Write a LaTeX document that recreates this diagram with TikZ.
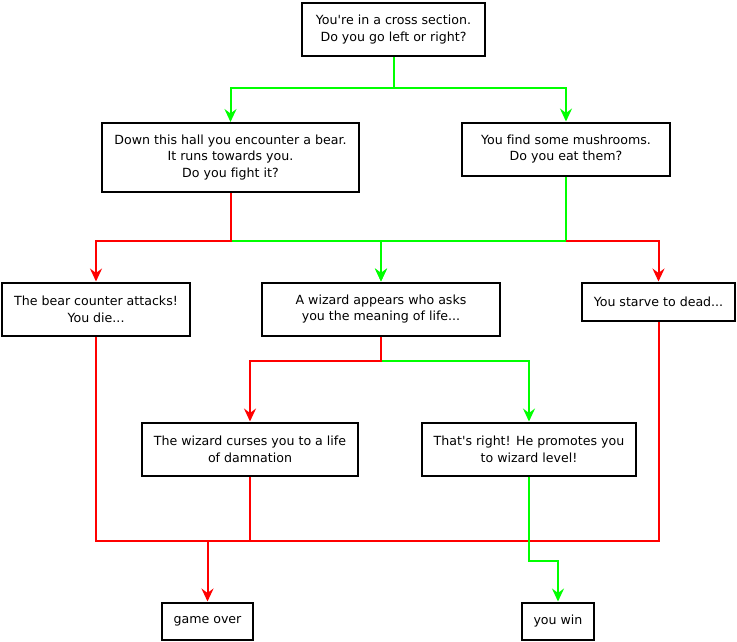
\documentclass[tikz,border=0pt]{standalone}
\usepackage{fontspec}
\setmainfont{DejaVu Sans}[Ligatures={TeXOff,NoCommon}]
\usetikzlibrary{arrows.meta}
\definecolor{lgreen}{HTML}{00FF00}
\definecolor{lred}{HTML}{FF0000}
\begin{document}
\begin{tikzpicture}[x=1pt,y=-1pt,
  box/.style={draw=black,line width=2pt,rectangle,inner sep=0pt,align=center,
    font=\fontsize{12.6}{16.8}\selectfont},
  conn/.style={line width=2pt,-{Stealth[length=13pt,width=12pt,inset=4.5pt]}},
  gline/.style={conn,draw=lgreen},
  rline/.style={conn,draw=lred},
  rplain/.style={line width=2pt,draw=lred}]
\useasboundingbox (0,0) rectangle (737,641);
\node[box,minimum width=183pt,minimum height=53pt] (top) at (393.5,29.5)
  {You're in a cross section.\\Do you go left or right?};
\node[box,minimum width=257pt,minimum height=69pt] (bear) at (230.5,157.5)
  {Down this hall you encounter a bear.\\It runs towards you.\\Do you fight it?};
\node[box,minimum width=208pt,minimum height=53pt] (mush) at (566,149)
  {You find some mushrooms.\\Do you eat them?};
\node[box,minimum width=188pt,minimum height=53pt] (counter) at (96,309)
  {The bear counter attacks!\\You die...};
\node[box,minimum width=238pt,minimum height=53pt] (wizard) at (381,309)
  {A wizard appears who asks\\you the meaning of life...};
\node[box,minimum width=153pt,minimum height=38pt] (starve) at (658.5,301.5)
  {You starve to dead...};
\node[box,minimum width=216pt,minimum height=53pt] (curses) at (250,449)
  {The wizard curses you to a life\\of damnation};
\node[box,minimum width=214pt,minimum height=53pt] (right) at (529,449)
  {That's right! He promotes you\\to wizard level!};
\node[box,minimum width=91pt,minimum height=37pt] (over) at (207.5,621) {game over};
\node[box,minimum width=72pt,minimum height=37pt] (win) at (558,621) {you win};
\coordinate (j0) at (0,88);
\coordinate (j1) at (0,241);
\coordinate (j2) at (0,361);
\coordinate (j3) at (0,541);
\coordinate (j4) at (0,561);
% top
\draw[gline] (top.south) -- (top.south |- j0) -| (bear.north);
\draw[gline] (top.south |- j0) -| (mush.north);
% second level
\draw[gline] (bear.south |- j1) -| (wizard.north);
\draw[gline] (mush.south) -- (mush.south |- j1) -| (wizard.north);
\draw[rline] (bear.south) -- (bear.south |- j1) -| (counter.north);
\draw[rline] (mush.south |- j1) -| (starve.north);
% wizard
\draw[gline] (wizard.south |- j2) -| (right.north);
\draw[rline] (wizard.south) -- (wizard.south |- j2) -| (curses.north);
% bottom
\draw[rplain] (counter.south) |- (starve.south |- j3) -- (starve.south);
\draw[rplain] (curses.south) -- (curses.south |- j3);
\draw[rline] (over.north |- j3) -- (over.north);
\draw[gline] (right.south) -- (right.south |- j4) -| (win.north);
\end{tikzpicture}
\end{document}
